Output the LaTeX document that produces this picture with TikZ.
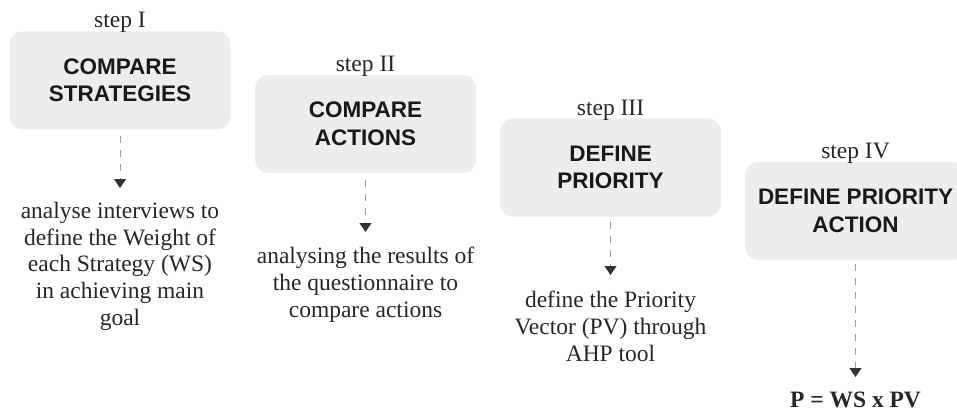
\documentclass[tikz,border=0pt]{standalone}
\usepackage{fontspec}
\setmainfont{Liberation Serif}
\newfontfamily\headfont{Liberation Sans}
\usetikzlibrary{arrows.meta}
\definecolor{boxgray}{HTML}{EDEDED}
\definecolor{dashgray}{HTML}{9A9A9A}
\definecolor{tipgray}{HTML}{333333}
\begin{document}
\begin{tikzpicture}[x=1pt,y=-1pt,
  stepbox/.style={fill=boxgray, rounded corners=13pt, minimum width=221pt, minimum height=98pt,
    inner sep=0pt, align=center, font=\headfont\bfseries\fontsize{22.5}{27.5}\selectfont, text=black!90},
  steplabel/.style={anchor=base, inner sep=0pt, font=\fontsize{23.5}{28}\selectfont, text=black!85},
  desc/.style={anchor=north, inner sep=0pt, align=center, font=\fontsize{23.5}{26.7}\selectfont, text=black!85},
  conn/.style={draw=dashgray, line width=0.9pt, dash pattern=on 7pt off 7pt,
    -{Triangle[width=12pt,length=9pt,color=tipgray]}}
]
\useasboundingbox (0,0) rectangle (957,414);

\node[stepbox] (s1) at (120,80.5) {COMPARE\\STRATEGIES};
\node[stepbox] (s2) at (365.5,124) {COMPARE\\ACTIONS};
\node[stepbox] (s3) at (610.5,167.5) {DEFINE\\PRIORITY};
\node[stepbox] (s4) at (855.5,211) {DEFINE PRIORITY\\ACTION};

\node[steplabel] (l1) at ([yshift=4pt]s1.north) {step I};
\node[steplabel] (l2) at ([yshift=3pt]s2.north) {step II};
\node[steplabel] (l3) at ([yshift=3pt]s3.north) {step III};
\node[steplabel] (l4) at ([yshift=3pt]s4.north) {step IV};

\node[desc] (t1) at (120,202) {analyse interviews to\\define the Weight of\\each Strategy (WS)\\in achieving main\\goal};
\node[desc] (t2) at (365.5,247) {analysing the results of\\the questionnaire to\\compare actions};
\node[desc] (t3) at (610.5,291) {define the Priority\\Vector (PV) through\\AHP tool};
\node[desc, font=\bfseries\fontsize{23.5}{26.7}\selectfont] (t4) at (855.5,392) {P = WS x PV};

\draw[conn] ([yshift=-6.5pt]s1.south) -- ([yshift=14pt]t1.north);
\draw[conn] ([yshift=-7pt]s2.south) -- ([yshift=15pt]t2.north);
\draw[conn] ([yshift=-5.5pt]s3.south) -- ([yshift=16pt]t3.north);
\draw[conn] ([yshift=-4pt]s4.south) -- ([yshift=15pt]t4.north);
\end{tikzpicture}
\end{document}
